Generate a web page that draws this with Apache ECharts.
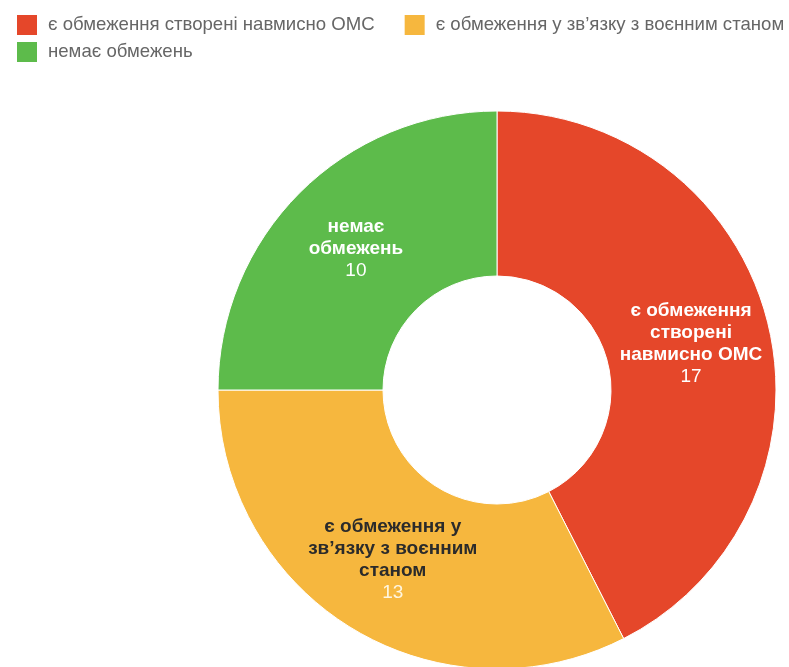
<!DOCTYPE html>
<html>
<head>
    <meta charset="utf-8">
    <script src="https://cdn.jsdelivr.net/npm/echarts@6/dist/echarts.min.js"></script>
    <style>
        html, body { margin: 0; padding: 0; background: #fff; }
    </style>
</head>
<body>
    <div id="main" style="width: 789px;height:667px;"></div>
    <script type="text/javascript">
        // дані
        var categories = ['є обмеження створені навмисно ОМС', 'є обмеження у зв\u2019язку з воєнним станом', 'немає обмежень'];
        var labelNames = ['є обмеження\nстворені\nнавмисно ОМС', 'є обмеження у\nзв\u2019язку з воєнним\nстаном', 'немає\nобмежень'];
        var values = [17, 13, 10];
        var colors = ['#E5472A', '#F6B73E', '#5DBB4B'];
        var labelColors = ['#ffffff', '#2b2b2b', '#ffffff'];

        var font = 'Liberation Sans, Arial, sans-serif';
        var myChart = echarts.init(document.getElementById('main'));

        var seriesData = categories.map(function (name, i) {
            return {
                name: name,
                value: values[i],
                itemStyle: { color: colors[i] },
                label: {
                    rich: {
                        n: { color: labelColors[i], fontWeight: 'bold', fontSize: 19, lineHeight: 22, fontFamily: font },
                        v: { color: i === 1 ? '#fff6e0' : '#ffffff', fontSize: 19, lineHeight: 22, fontFamily: font }
                    }
                }
            };
        });

        // дві легенди: перший рядок і другий рядок
        function legendRow(top, data) {
            return {
                left: 15,
                top: top,
                width: 774,
                padding: 0,
                orient: 'horizontal',
                itemWidth: 22,
                itemHeight: 22,
                itemGap: 28,
                icon: 'rect',
                textStyle: { color: '#666', fontSize: 18.6, fontFamily: font, padding: [0, 0, 0, 5] },
                data: data
            };
        }

        myChart.setOption({
            animation: false,
            legend: [
                legendRow(13, categories.slice(0, 2)),
                legendRow(40, categories.slice(2))
            ],
            series: [{
                type: 'pie',
                center: [497, 390],
                radius: [114, 279],
                startAngle: 90,
                clockwise: true,
                itemStyle: { borderColor: '#fff', borderWidth: 1 },
                label: {
                    show: true,
                    position: 'inside',
                    formatter: function (p) {
                        return '{n|' + labelNames[p.dataIndex].split('\n').join('}\n{n|') + '}\n{v|' + p.value + '}';
                    }
                },
                labelLine: { show: false },
                data: seriesData
            }]
        });
    </script>
</body>
</html>
